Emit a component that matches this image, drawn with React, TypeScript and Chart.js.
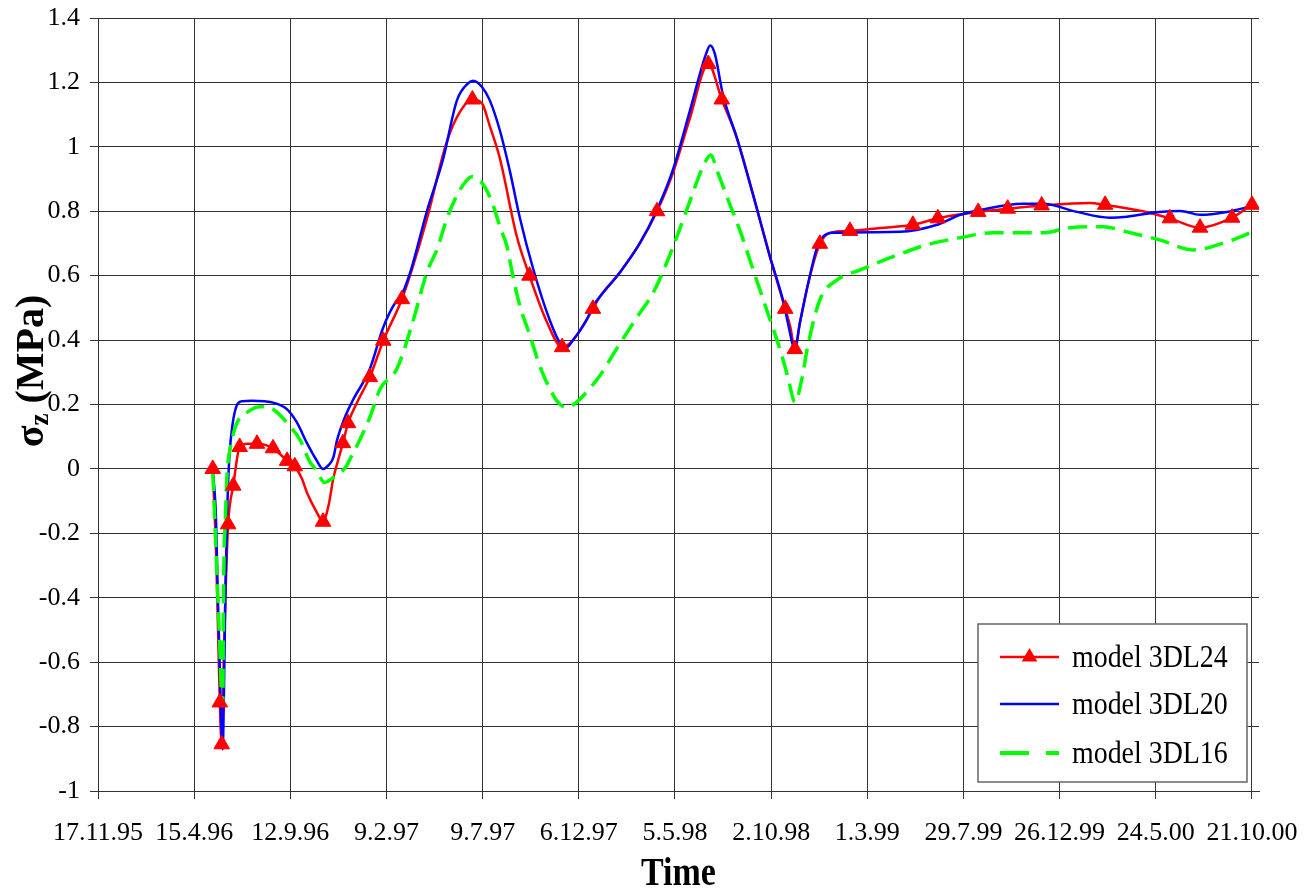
import React, { useEffect, useRef } from "react";
import { Chart, registerables } from "chart.js";

Chart.register(...registerables);

// ---------- axis ticks ----------
const xTickDays = [0, 150, 300, 450, 600, 750, 900, 1050, 1200, 1350, 1500, 1650, 1800];
const xTickLabels = [
  "17.11.95", "15.4.96", "12.9.96", "9.2.97", "9.7.97", "6.12.97", "5.5.98",
  "2.10.98", "1.3.99", "29.7.99", "26.12.99", "24.5.00", "21.10.00",
];
const yTicks = [-1, -0.8, -0.6, -0.4, -0.2, 0, 0.2, 0.4, 0.6, 0.8, 1, 1.2, 1.4];

// ---------- model 3DL24 (line, days since 17.11.95) ----------
const m24Days = [
  179, 184, 187, 190, 193, 196, 199, 203, 211, 221, 233, 248, 273, 295, 307, 318, 326, 340,
  351, 360, 367, 375, 382, 390, 405, 424, 445, 474, 491, 513, 544, 565, 584, 599, 611, 627,
  653, 673, 700, 724, 741, 763, 772, 783, 814, 845, 872, 897, 923, 952, 973, 997, 1022, 1048,
  1072, 1080, 1087, 1095, 1108, 1126, 1142, 1173, 1220, 1271, 1310, 1344, 1373, 1419, 1472,
  1547, 1571, 1630, 1672, 1719, 1769, 1800,
];
const m24Values = [
  0.0, -0.25, -0.48, -0.725, -0.855, -0.6, -0.38, -0.172, -0.052, 0.068, 0.078, 0.078, 0.064,
  0.025, 0.008, -0.03, -0.074, -0.13, -0.164, -0.11, -0.03, 0.03, 0.08, 0.142, 0.21, 0.285,
  0.398, 0.527, 0.627, 0.776, 1.015, 1.11, 1.147, 1.135, 1.065, 0.963, 0.724, 0.6, 0.457,
  0.378, 0.4, 0.466, 0.497, 0.535, 0.61, 0.7, 0.8, 0.92, 1.087, 1.257, 1.147, 1.025, 0.85,
  0.66, 0.497, 0.44, 0.372, 0.455, 0.578, 0.699, 0.733, 0.739, 0.748, 0.758, 0.778, 0.79,
  0.798, 0.808, 0.818, 0.826, 0.82, 0.8, 0.778, 0.749, 0.78, 0.82,
];
// ---------- model 3DL24 (triangle markers) ----------
const m24MarkerDays = [
  179, 190, 193, 203, 211, 221, 248, 273, 295, 307, 351, 382, 390, 424, 445, 474, 584, 673,
  724, 772, 872, 952, 973, 1072, 1087, 1126, 1173, 1271, 1310, 1373, 1419, 1472, 1571, 1672,
  1719, 1769, 1800,
];
const m24MarkerValues = [
  0.0, -0.725, -0.855, -0.172, -0.052, 0.068, 0.078, 0.064, 0.025, 0.008, -0.164, 0.08, 0.142,
  0.285, 0.398, 0.527, 1.147, 0.6, 0.378, 0.497, 0.8, 1.257, 1.147, 0.497, 0.372, 0.699, 0.739,
  0.758, 0.778, 0.798, 0.808, 0.818, 0.82, 0.778, 0.749, 0.78, 0.82,
];

// ---------- model 3DL20 ----------
const m20Days = [
  179, 184, 187, 190, 193, 194.5, 197, 199, 202, 205, 210, 216, 224, 240, 260, 273, 295, 310,
  326, 340, 351, 359, 367, 373, 385, 398, 424, 445, 465, 471, 487, 513, 538, 560, 576, 585,
  599, 611, 627, 643, 658, 679, 705, 721, 731, 741, 763, 772, 783, 814, 845, 872, 897, 923,
  947, 955, 962, 975, 997, 1022, 1048, 1069, 1076, 1087, 1095, 1108, 1122, 1131, 1146, 1251,
  1309, 1345, 1376, 1443, 1474, 1527, 1578, 1605, 1656, 1688, 1719, 1761, 1800,
];
const m20Values = [
  0.0, -0.15, -0.4, -0.62, -0.84, -0.87, -0.62, -0.35, -0.1, 0.04, 0.14, 0.195, 0.21, 0.212,
  0.21, 0.206, 0.185, 0.145, 0.08, 0.03, 0.0, 0.01, 0.035, 0.09, 0.16, 0.215, 0.31, 0.44, 0.52,
  0.53, 0.61, 0.8, 0.96, 1.145, 1.195, 1.205, 1.186, 1.145, 1.05, 0.92, 0.78, 0.62, 0.46,
  0.39, 0.378, 0.4, 0.466, 0.505, 0.535, 0.61, 0.7, 0.805, 0.93, 1.11, 1.28, 1.315, 1.29, 1.16,
  1.025, 0.85, 0.66, 0.52, 0.455, 0.373, 0.455, 0.578, 0.69, 0.721, 0.733, 0.736, 0.758, 0.789,
  0.804, 0.823, 0.823, 0.798, 0.78, 0.783, 0.798, 0.801, 0.789, 0.798, 0.816,
];

// ---------- model 3DL16 ----------
const m16Days = [
  179, 183, 187, 190, 193, 194.5, 196, 199, 201, 209, 217, 232, 253, 268, 300, 315, 331, 339,
  354, 367, 388, 393, 409, 424, 440, 466, 491, 513, 529, 544, 557, 569, 583, 599, 615, 627,
  638, 647, 658, 674, 689, 705, 717, 731, 747, 767, 783, 809, 841, 866, 887, 903, 923, 944,
  956, 965, 981, 1001, 1022, 1043, 1064, 1076, 1087, 1098, 1106, 1126, 1153, 1189, 1240, 1293,
  1345, 1396, 1474, 1516, 1568, 1605, 1656, 1708, 1761, 1800,
];
const m16Values = [
  -0.01, -0.2, -0.4, -0.55, -0.72, -0.735, -0.35, -0.14, -0.03, 0.09, 0.144, 0.175, 0.193,
  0.19, 0.131, 0.091, 0.02, 0.0, -0.042, -0.027, 0.01, 0.03, 0.093, 0.16, 0.248, 0.31, 0.457,
  0.61, 0.683, 0.776, 0.838, 0.88, 0.907, 0.888, 0.826, 0.752, 0.69, 0.6, 0.507, 0.413, 0.32,
  0.248, 0.208, 0.19, 0.208, 0.25, 0.29, 0.373, 0.472, 0.547, 0.64, 0.721, 0.83, 0.94, 0.975,
  0.93, 0.845, 0.742, 0.618, 0.494, 0.37, 0.286, 0.207, 0.28, 0.37, 0.525, 0.587, 0.618, 0.659,
  0.696, 0.718, 0.733, 0.733, 0.749, 0.752, 0.736, 0.711, 0.68, 0.705, 0.735,
];

const seriesNames = ["model 3DL24", "model 3DL20", "model 3DL16"];

const toPoints = (xs: number[], ys: number[]) => xs.map((x, i) => ({ x, y: ys[i] }));

const SERIF = "'Liberation Serif', 'Times New Roman', serif";

const overlayPlugin = {
  id: "overlay",
  afterDraw(chart: any) {
    const ctx: CanvasRenderingContext2D = chart.ctx;
    const area = chart.chartArea;

    // ----- legend box -----
    const bx = area.right - 281;
    const by = area.bottom - 167;
    const bw = 269;
    const bh = 158;
    ctx.save();
    ctx.fillStyle = "#ffffff";
    ctx.fillRect(bx, by, bw, bh);
    ctx.strokeStyle = "#666666";
    ctx.lineWidth = 1.5;
    ctx.strokeRect(bx, by, bw, bh);

    const rowsY = [by + 33, by + 80, by + 129];
    const lx0 = bx + 22;
    const lx1 = bx + 81;
    // red line + triangle
    ctx.strokeStyle = "#ff0000";
    ctx.lineWidth = 2.5;
    ctx.beginPath();
    ctx.moveTo(lx0, rowsY[0]);
    ctx.lineTo(lx1, rowsY[0]);
    ctx.stroke();
    const cx = (lx0 + lx1) / 2;
    const r = 9;
    ctx.fillStyle = "#ff0000";
    ctx.beginPath();
    ctx.moveTo(cx, rowsY[0] - r);
    ctx.lineTo(cx + r * 0.866, rowsY[0] + r / 2);
    ctx.lineTo(cx - r * 0.866, rowsY[0] + r / 2);
    ctx.closePath();
    ctx.fill();
    // blue
    ctx.strokeStyle = "#0000ff";
    ctx.lineWidth = 2.5;
    ctx.beginPath();
    ctx.moveTo(lx0, rowsY[1]);
    ctx.lineTo(lx1, rowsY[1]);
    ctx.stroke();
    // green dashed
    ctx.strokeStyle = "#00ff00";
    ctx.lineWidth = 4;
    ctx.setLineDash([29, 17]);
    ctx.beginPath();
    ctx.moveTo(lx0, rowsY[2]);
    ctx.lineTo(lx1, rowsY[2]);
    ctx.stroke();
    ctx.setLineDash([]);

    ctx.fillStyle = "#000000";
    ctx.font = `31px ${SERIF}`;
    ctx.textAlign = "left";
    ctx.textBaseline = "alphabetic";
    seriesNames.forEach((name, i) => {
      ctx.save();
      ctx.translate(bx + 94, rowsY[i] + 10);
      ctx.scale(0.9, 1);
      ctx.fillText(name, 0, 0);
      ctx.restore();
    });
    ctx.restore();

    // ----- x axis title -----
    ctx.save();
    ctx.fillStyle = "#000000";
    ctx.font = `bold 40px ${SERIF}`;
    ctx.textAlign = "center";
    ctx.textBaseline = "alphabetic";
    ctx.translate((area.left + area.right) / 2, 885);
    ctx.scale(0.85, 1);
    ctx.fillText("Time", 0, 0);
    ctx.restore();

    // ----- y axis title: σz (MPa) -----
    ctx.save();
    ctx.fillStyle = "#000000";
    ctx.translate(43, 371);
    ctx.rotate(-Math.PI / 2);
    ctx.textAlign = "left";
    ctx.textBaseline = "alphabetic";
    const f1 = `bold 40px ${SERIF}`;
    const f2 = `bold 27px ${SERIF}`;
    ctx.font = f1;
    const wSig = ctx.measureText("σ").width;
    const wRest = ctx.measureText(" (MPa)").width;
    ctx.font = f2;
    const wZ = ctx.measureText("z").width;
    const total = wSig + wZ + wRest;
    let px = -total / 2;
    ctx.font = f1;
    ctx.fillText("σ", px, 0);
    px += wSig;
    ctx.font = f2;
    ctx.fillText("z", px, 5);
    px += wZ;
    ctx.font = f1;
    ctx.fillText(" (MPa)", px, 0);
    ctx.restore();
  },
};

export default function App() {
  const canvasRef = useRef<HTMLCanvasElement | null>(null);

  useEffect(() => {
    if (!canvasRef.current) return;
    const gridColor = "#333333";
    const chart = new Chart(canvasRef.current, {
      type: "line",
      data: {
        datasets: [
          {
            label: seriesNames[0] + " markers",
            data: toPoints(m24MarkerDays, m24MarkerValues),
            showLine: false,
            pointStyle: "triangle",
            pointRadius: 9,
            pointBackgroundColor: "#ff0000",
            pointBorderColor: "#ff0000",
            pointBorderWidth: 1,
            borderColor: "#ff0000",
            backgroundColor: "#ff0000",
          },
          {
            label: seriesNames[2],
            data: toPoints(m16Days, m16Values),
            borderColor: "#00ff00",
            backgroundColor: "#00ff00",
            borderWidth: 3.5,
            borderDash: [19, 9],
            pointRadius: 0,
            cubicInterpolationMode: "monotone",
          },
          {
            label: seriesNames[1],
            data: toPoints(m20Days, m20Values),
            borderColor: "#0000ff",
            backgroundColor: "#0000ff",
            borderWidth: 2.5,
            pointRadius: 0,
            cubicInterpolationMode: "monotone",
          },
          {
            label: seriesNames[0],
            data: toPoints(m24Days, m24Values),
            borderColor: "#ff0000",
            backgroundColor: "#ff0000",
            borderWidth: 2.5,
            pointRadius: 0,
            cubicInterpolationMode: "monotone",
          },
        ],
      },
      options: {
        responsive: false,
        animation: false,
        events: [],
        layout: { padding: { left: 0, right: 50, top: 18, bottom: 0 } },
        plugins: {
          legend: { display: false },
          tooltip: { enabled: false },
        },
        scales: {
          x: {
            type: "linear",
            min: 0,
            max: 1811,
            afterBuildTicks: (scale: any) => {
              scale.ticks = xTickDays.map((v) => ({ value: v }));
            },
            afterFit: (scale: any) => {
              scale.height = 103;
              scale.paddingLeft = 0;
              scale.paddingRight = 0;
              scale.paddingTop = 0;
              scale.paddingBottom = 0;
            },
            ticks: {
              autoSkip: false,
              maxRotation: 0,
              minRotation: 0,
              padding: 19,
              color: "#000000",
              font: { family: SERIF, size: 26 },
              callback: (_v: any, i: number) => xTickLabels[i],
            },
            grid: { color: gridColor, lineWidth: 1, tickLength: 8, drawTicks: true },
            border: { display: true, color: gridColor, width: 1 },
          },
          y: {
            type: "linear",
            min: -1,
            max: 1.4,
            afterBuildTicks: (scale: any) => {
              scale.ticks = yTicks.map((v) => ({ value: v }));
            },
            afterFit: (scale: any) => {
              scale.width = 98;
              scale.paddingLeft = 0;
              scale.paddingRight = 0;
              scale.paddingTop = 0;
              scale.paddingBottom = 0;
            },
            ticks: {
              padding: 10,
              color: "#000000",
              font: { family: SERIF, size: 26 },
              callback: (v: any) => String(Number(Number(v).toFixed(1))),
            },
            grid: { color: gridColor, lineWidth: 1, tickLength: 8, drawTicks: true },
            border: { display: true, color: gridColor, width: 1 },
          },
        },
      },
      plugins: [overlayPlugin],
    } as any);
    return () => chart.destroy();
  }, []);

  return (
    <div style={{ position: "absolute", left: 0, top: 0, width: 1309, height: 894, background: "#fff" }}>
      <canvas ref={canvasRef} width={1309} height={894} style={{ display: "block" }} />
    </div>
  );
}
